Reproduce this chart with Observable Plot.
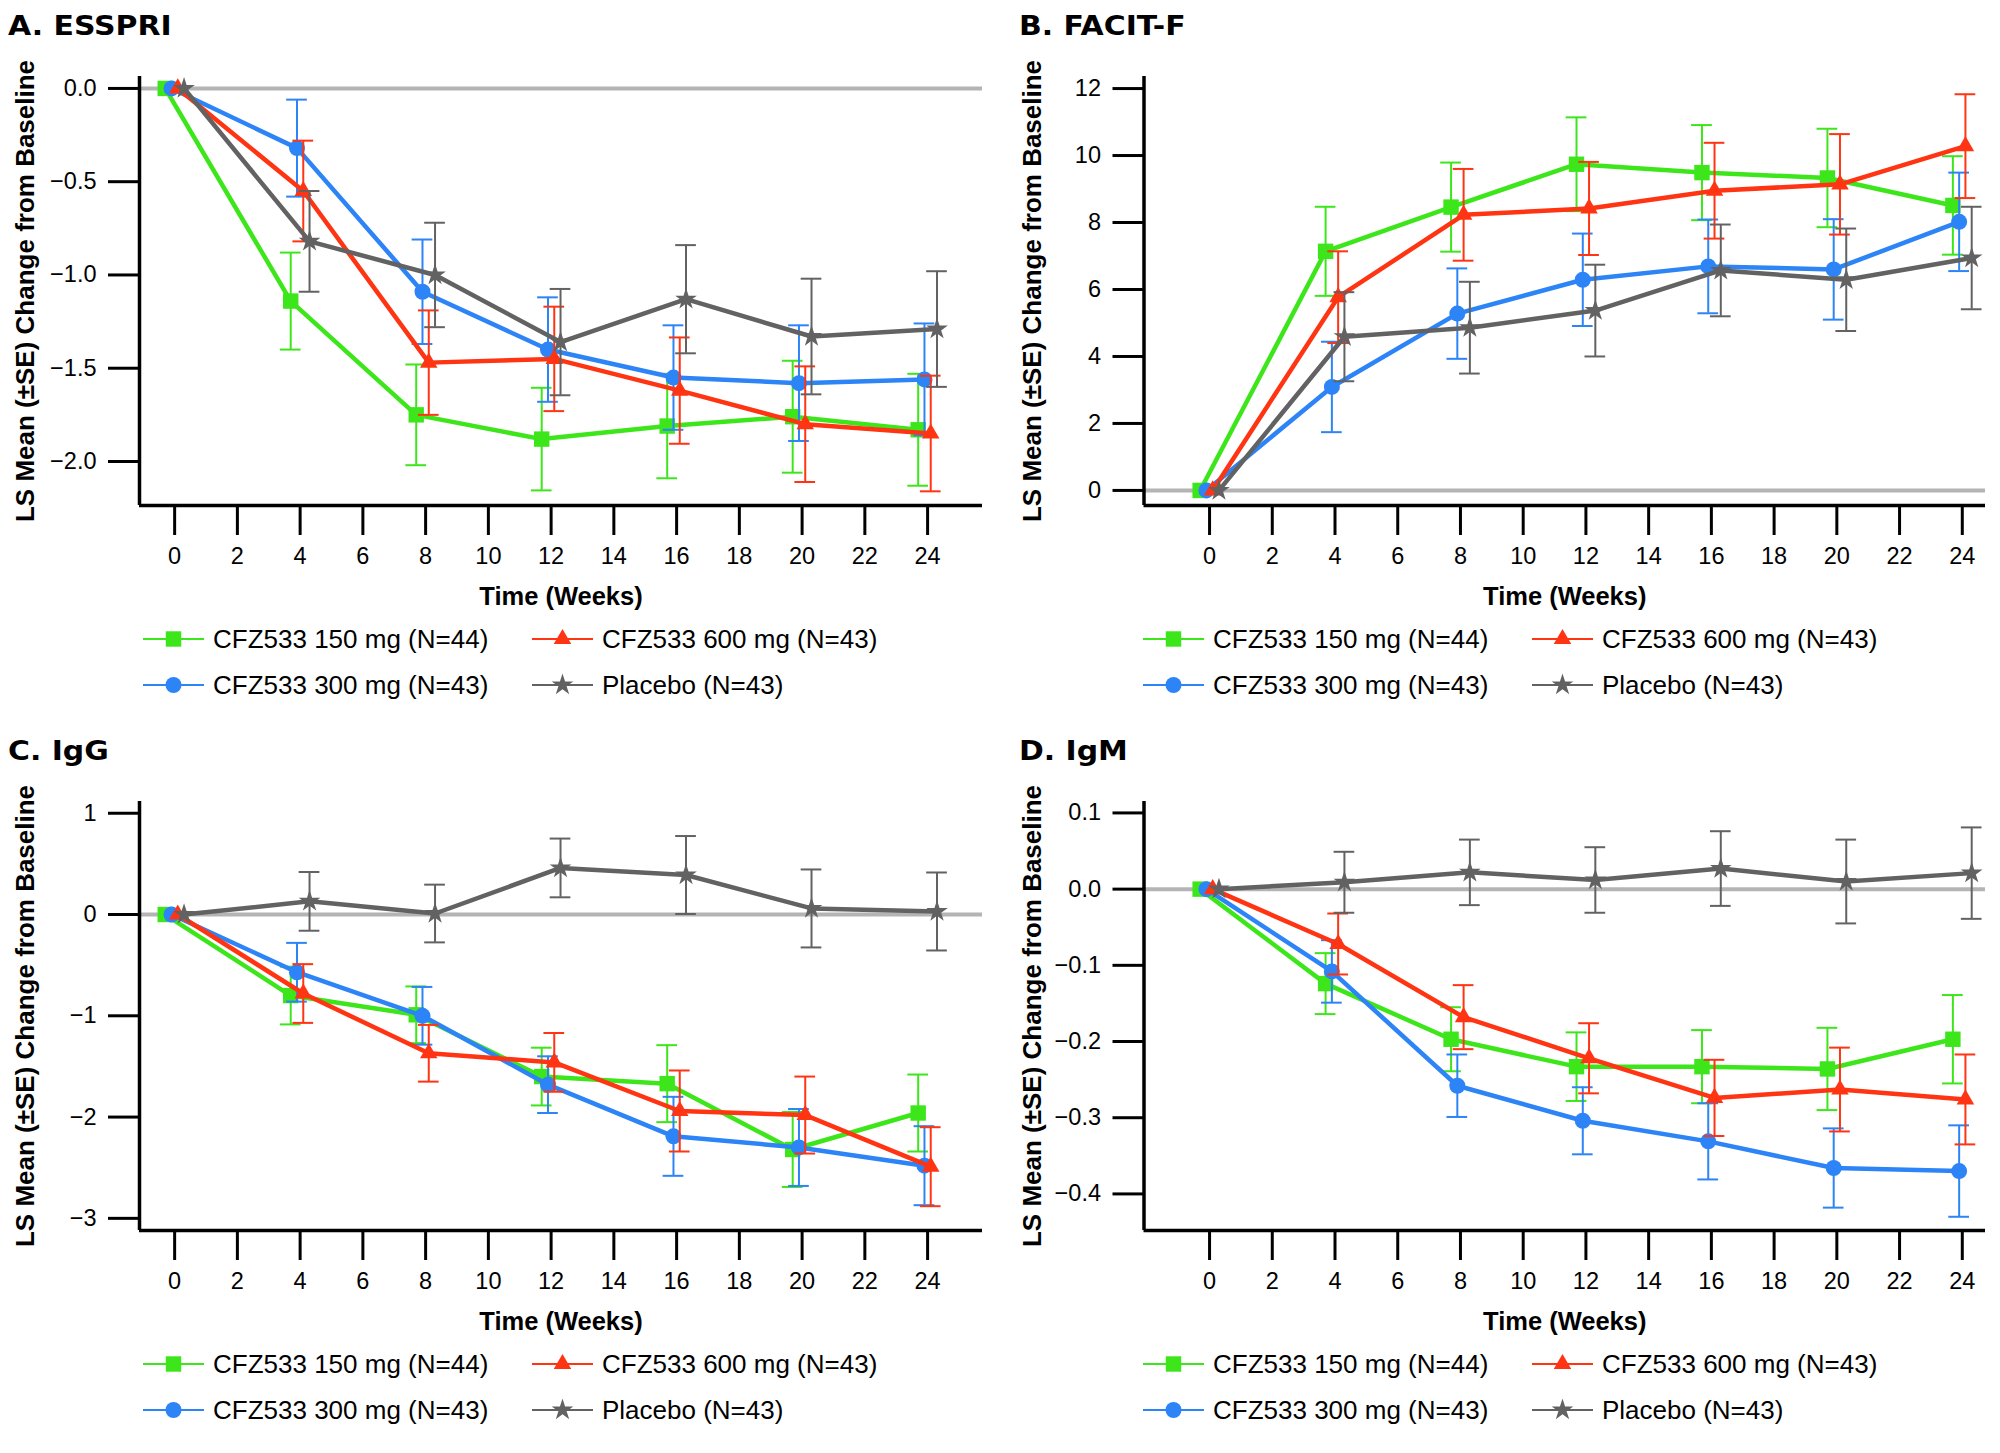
<!DOCTYPE html>
<html><head><meta charset="utf-8">
<script src="https://cdn.jsdelivr.net/npm/d3@7"></script>
<script src="https://cdn.jsdelivr.net/npm/@observablehq/plot@0.6"></script>
<style>
html,body{margin:0;padding:0;background:#fff;}
body{width:2000px;height:1453px;position:relative;overflow:hidden;font-family:"Liberation Sans",Arial,sans-serif;}
.panel{position:absolute;width:1000px;height:728px;}
.title{position:absolute;top:13px;font-family:"DejaVu Sans",sans-serif;font-weight:bold;font-size:26px;line-height:26px;white-space:nowrap;transform:scaleX(1.15);transform-origin:0 0;}
.chart{position:absolute;left:0;top:40px;}
.legend{position:absolute;left:0;top:610px;}
</style></head><body>
<script>
// ---------- data ----------
const weeks = [0, 4, 8, 12, 16, 20, 24];
const xTicks = [0, 2, 4, 6, 8, 10, 12, 14, 16, 18, 20, 22, 24];
const seriesNames = ["CFZ533 150 mg (N=44)", "CFZ533 300 mg (N=43)", "CFZ533 600 mg (N=43)", "Placebo (N=43)"];

// A. ESSPRI
const esspri150 = [0, -1.14, -1.75, -1.88, -1.81, -1.76, -1.83];
const esspri150SE = [0, 0.26, 0.27, 0.275, 0.28, 0.30, 0.30];
const esspri300 = [0, -0.32, -1.09, -1.40, -1.55, -1.58, -1.56];
const esspri300SE = [0, 0.26, 0.28, 0.28, 0.28, 0.31, 0.30];
const esspri600 = [0, -0.55, -1.47, -1.45, -1.62, -1.80, -1.85];
const esspri600SE = [0, 0.27, 0.28, 0.28, 0.285, 0.31, 0.31];
const esspriPbo = [0, -0.82, -1.00, -1.36, -1.13, -1.33, -1.29];
const esspriPboSE = [0, 0.27, 0.28, 0.285, 0.29, 0.31, 0.31];
const esspriTicks = [0, -0.5, -1.0, -1.5, -2.0];

// B. FACIT-F
const facit150 = [0, 7.14, 8.46, 9.74, 9.49, 9.33, 8.51];
const facit150SE = [0, 1.33, 1.33, 1.40, 1.42, 1.47, 1.47];
const facit300 = [0, 3.09, 5.28, 6.29, 6.69, 6.60, 8.02];
const facit300SE = [0, 1.35, 1.35, 1.38, 1.40, 1.50, 1.47];
const facit600 = [0, 5.77, 8.23, 8.42, 8.95, 9.14, 10.28];
const facit600SE = [0, 1.37, 1.37, 1.39, 1.43, 1.50, 1.55];
const facitPbo = [0, 4.59, 4.86, 5.37, 6.57, 6.29, 6.94];
const facitPboSE = [0, 1.33, 1.37, 1.37, 1.37, 1.53, 1.53];
const facitTicks = [0, 2, 4, 6, 8, 10, 12];

// C. IgG
const igg150 = [0, -0.80, -0.99, -1.60, -1.67, -2.32, -1.96];
const igg150SE = [0, 0.285, 0.28, 0.285, 0.38, 0.37, 0.38];
const igg300 = [0, -0.57, -1.00, -1.68, -2.19, -2.30, -2.48];
const igg300SE = [0, 0.29, 0.285, 0.28, 0.39, 0.38, 0.39];
const igg600 = [0, -0.78, -1.37, -1.46, -1.94, -1.98, -2.49];
const igg600SE = [0, 0.29, 0.28, 0.29, 0.40, 0.38, 0.39];
const iggPbo = [0, 0.13, 0.01, 0.46, 0.39, 0.06, 0.03];
const iggPboSE = [0, 0.29, 0.285, 0.29, 0.385, 0.385, 0.385];
const iggTicks = [1, 0, -1, -2, -3];

// D. IgM
const igm150 = [0, -0.124, -0.197, -0.233, -0.233, -0.236, -0.197];
const igm150SE = [0, 0.040, 0.042, 0.045, 0.048, 0.054, 0.058];
const igm300 = [0, -0.108, -0.258, -0.304, -0.331, -0.366, -0.370];
const igm300SE = [0, 0.041, 0.041, 0.044, 0.050, 0.052, 0.060];
const igm600 = [0, -0.072, -0.168, -0.222, -0.274, -0.263, -0.276];
const igm600SE = [0, 0.040, 0.042, 0.046, 0.050, 0.055, 0.059];
const igmPbo = [0, 0.009, 0.022, 0.012, 0.027, 0.010, 0.021];
const igmPboSE = [0, 0.040, 0.043, 0.043, 0.049, 0.055, 0.060];
const igmTicks = [0.1, 0.0, -0.1, -0.2, -0.3, -0.4];

// ---------- styles ----------
const seriesColors = ["#3de61b", "#2c84f6", "#ff3412", "#626262"];
const seriesSymbols = ["square", "circle", "triangle", "star"];
const seriesR = [8.7, 8.0, 6.5, 6.8];
const seriesOffset = [-0.3, -0.1, 0.1, 0.3];
const capHalf = 0.33;

const panels = [
  {title: "A. ESSPRI", left: 0, top: 0, titleLeft: 8,
   means: [esspri150, esspri300, esspri600, esspriPbo], ses: [esspri150SE, esspri300SE, esspri600SE, esspriPboSE],
   yTicks: esspriTicks, fmt: ".1f", yDomain: [-2.236, 0.064], xDomain: [-1.12, 25.75], marginLeft: 139, marginRight: 18, yLabelDx: -114},
  {title: "B. FACIT-F", left: 1000, top: 0, titleLeft: 19,
   means: [facit150, facit300, facit600, facitPbo], ses: [facit150SE, facit300SE, facit600SE, facitPboSE],
   yTicks: facitTicks, fmt: "d", yDomain: [-0.45, 12.36], xDomain: [-2.09, 24.74], marginLeft: 143.5, marginRight: 15, yLabelDx: -111},
  {title: "C. IgG", left: 0, top: 725, titleLeft: 8,
   means: [igg150, igg300, igg600, iggPbo], ses: [igg150SE, igg300SE, igg600SE, iggPboSE],
   yTicks: iggTicks, fmt: "d", yDomain: [-3.12, 1.116], xDomain: [-1.12, 25.75], marginLeft: 139, marginRight: 18, yLabelDx: -114},
  {title: "D. IgM", left: 1000, top: 725, titleLeft: 19,
   means: [igm150, igm300, igm600, igmPbo], ses: [igm150SE, igm300SE, igm600SE, igmPboSE],
   yTicks: igmTicks, fmt: ".1f", yDomain: [-0.448, 0.115], xDomain: [-2.09, 24.74], marginLeft: 143.5, marginRight: 15, yLabelDx: -111}
];

const FONT = "'Liberation Sans', Arial, Helvetica, sans-serif";

function buildPanel(p) {
  const div = document.createElement("div");
  div.className = "panel";
  div.style.left = p.left + "px";
  div.style.top = p.top + "px";
  document.body.appendChild(div);

  const t = document.createElement("div");
  t.className = "title";
  t.style.left = p.titleLeft + "px";
  t.textContent = p.title;
  div.appendChild(t);

  const marks = [
    Plot.ruleY([0], {stroke: "#b4b4b4", strokeWidth: 4}),
    Plot.ruleX([p.xDomain[0]], {stroke: "#000", strokeWidth: 3.5}),
    Plot.ruleY([p.yDomain[0]], {stroke: "#000", strokeWidth: 3.5}),
    Plot.axisY({ticks: p.yTicks, tickFormat: d3.format(p.fmt), tickSize: 31, tickPadding: 12, strokeWidth: 3, fontSize: 23.5, label: null}),
    Plot.axisX({ticks: xTicks, tickFormat: d3.format("d"), tickSize: 30, tickPadding: 12, strokeWidth: 3, fontSize: 23.5, label: null}),
    Plot.text(["LS Mean (±SE) Change from Baseline"], {text: d => d, frameAnchor: "left", textAnchor: "middle", dx: p.yLabelDx, rotate: -90, fontSize: 26, fontWeight: "bold", lineAnchor: "middle"}),
    Plot.text(["Time (Weeks)"], {text: d => d, frameAnchor: "bottom", textAnchor: "middle", dy: 91, fontSize: 25.5, fontWeight: "bold", lineAnchor: "middle"})
  ];

  p.means.forEach((m, s) => {
    const rows = weeks.map((w, i) => ({week: w, xs: w + seriesOffset[s], mean: m[i], se: p.ses[s][i]}));
    const eb = rows.filter(d => d.se > 0);
    const c = seriesColors[s];
    marks.push(
      Plot.ruleX(eb, {x: "xs", y1: d => d.mean - d.se, y2: d => d.mean + d.se, stroke: c, strokeWidth: 2}),
      Plot.ruleY(eb, {y: d => d.mean + d.se, x1: d => d.xs - capHalf, x2: d => d.xs + capHalf, stroke: c, strokeWidth: 2}),
      Plot.ruleY(eb, {y: d => d.mean - d.se, x1: d => d.xs - capHalf, x2: d => d.xs + capHalf, stroke: c, strokeWidth: 2}),
      Plot.line(rows, {x: "xs", y: "mean", stroke: c, strokeWidth: 4.5, strokeLinejoin: "round"}),
      Plot.dot(rows, {x: "xs", y: "mean", symbol: seriesSymbols[s], r: seriesR[s], fill: c, stroke: "none"})
    );
  });

  const chart = Plot.plot({
    width: 1000, height: 580,
    marginLeft: p.marginLeft, marginRight: p.marginRight, marginTop: 36, marginBottom: 115,
    x: {domain: p.xDomain, axis: null},
    y: {domain: p.yDomain, axis: null},
    style: {fontFamily: FONT, fontSize: "23.5px", color: "#000", background: "transparent", overflow: "visible"},
    marks
  });
  chart.classList.add("chart");
  chart.style.position = "absolute";
  chart.style.left = "0px";
  chart.style.top = "40px";
  div.appendChild(chart);

  // legend
  const leg = d3.create("svg").attr("width", 1000).attr("height", 100).attr("class", "legend")
    .style("position", "absolute").style("left", "0px").style("top", "610px");
  const slots = [[0, 143, 29], [1, 143, 75], [2, 532, 29], [3, 532, 75]];
  slots.forEach(([s, x0, y0]) => {
    const g = leg.append("g").attr("transform", `translate(${x0},${y0})`);
    g.append("line").attr("x1", 0).attr("x2", 61).attr("y1", 0).attr("y2", 0)
      .attr("stroke", seriesColors[s]).attr("stroke-width", 2.2);
    const symType = {square: d3.symbolSquare, circle: d3.symbolCircle, triangle: d3.symbolTriangle, star: d3.symbolStar}[seriesSymbols[s]];
    g.append("path").attr("transform", "translate(30.5,0)")
      .attr("d", d3.symbol(symType, Math.PI * seriesR[s] * seriesR[s])())
      .attr("fill", seriesColors[s]);
    g.append("text").attr("x", 70).attr("y", 0).attr("dy", "0.36em")
      .attr("font-family", FONT).attr("font-size", 26).attr("fill", "#000")
      .text(seriesNames[s]);
  });
  div.appendChild(leg.node());
}

panels.forEach(buildPanel);
</script>
</body></html>
